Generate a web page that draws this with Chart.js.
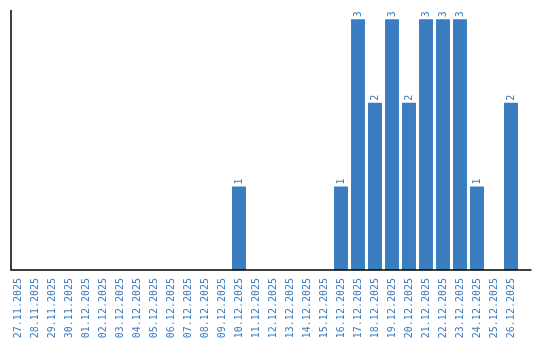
<!DOCTYPE html>
<html>
<head>
<meta charset="utf-8">
<script src="https://cdn.jsdelivr.net/npm/chart.js@4/dist/chart.umd.min.js"></script>
<style>
  html, body { margin:0; padding:0; background:#fff; }
  #wrap { width:540px; height:340px; }
</style>
</head>
<body>
<div id="wrap"><canvas id="chart" width="540" height="340"></canvas></div>
<script>
const days = ['27.11.2025','28.11.2025','29.11.2025','30.11.2025','01.12.2025','02.12.2025','03.12.2025','04.12.2025','05.12.2025','06.12.2025','07.12.2025','08.12.2025','09.12.2025','10.12.2025','11.12.2025','12.12.2025','13.12.2025','14.12.2025','15.12.2025','16.12.2025','17.12.2025','18.12.2025','19.12.2025','20.12.2025','21.12.2025','22.12.2025','23.12.2025','24.12.2025','25.12.2025','26.12.2025'];
const counts = [0,0,0,0,0,0,0,0,0,0,0,0,0,1,0,0,0,0,0,1,3,2,3,2,3,3,3,1,0,2];

const blue = '#3a7dc1';
const font = 'DejaVu Sans Mono';

// axis lines + value labels on top of bars
const decor = {
  id:'decor',
  afterDatasetsDraw(chart){
    const ctx = chart.ctx, a = chart.chartArea;
    ctx.save();
    ctx.strokeStyle = '#000';
    ctx.lineWidth = 1.5;
    ctx.beginPath();
    ctx.moveTo(a.left+1.5, a.top);
    ctx.lineTo(a.left+1.5, a.bottom);
    ctx.lineTo(a.right+12, a.bottom);
    ctx.stroke();

    ctx.fillStyle = blue;
    ctx.font = '10px "'+font+'"';
    ctx.textAlign = 'left';
    ctx.textBaseline = 'middle';
    chart.getDatasetMeta(0).data.forEach((bar,i)=>{
      if(!counts[i]) return;
      ctx.save();
      ctx.translate(bar.x, bar.y-2);
      ctx.rotate(-Math.PI/2);
      ctx.fillText(String(counts[i]), 0, 0);
      ctx.restore();
    });
    ctx.restore();
  }
};

new Chart(document.getElementById('chart').getContext('2d'), {
  type:'bar',
  data:{ labels:days, datasets:[{ data:counts, backgroundColor:blue, barPercentage:0.82, categoryPercentage:1 }] },
  options:{
    responsive:false,
    animation:false,
    layout:{ padding:{ left:9.5, right:20.5, top:10, bottom:0 } },
    plugins:{ legend:{display:false}, tooltip:{enabled:false} },
    scales:{
      x:{
        grid:{ display:false },
        border:{ display:false },
        ticks:{ color:blue, font:{ family:font, size:10 }, minRotation:90, maxRotation:90, padding:0, autoSkip:false },
        afterFit(s){ s.height = 70; }
      },
      y:{ display:false, min:0, max:3.11 }
    }
  },
  plugins:[decor]
});
</script>
</body>
</html>
